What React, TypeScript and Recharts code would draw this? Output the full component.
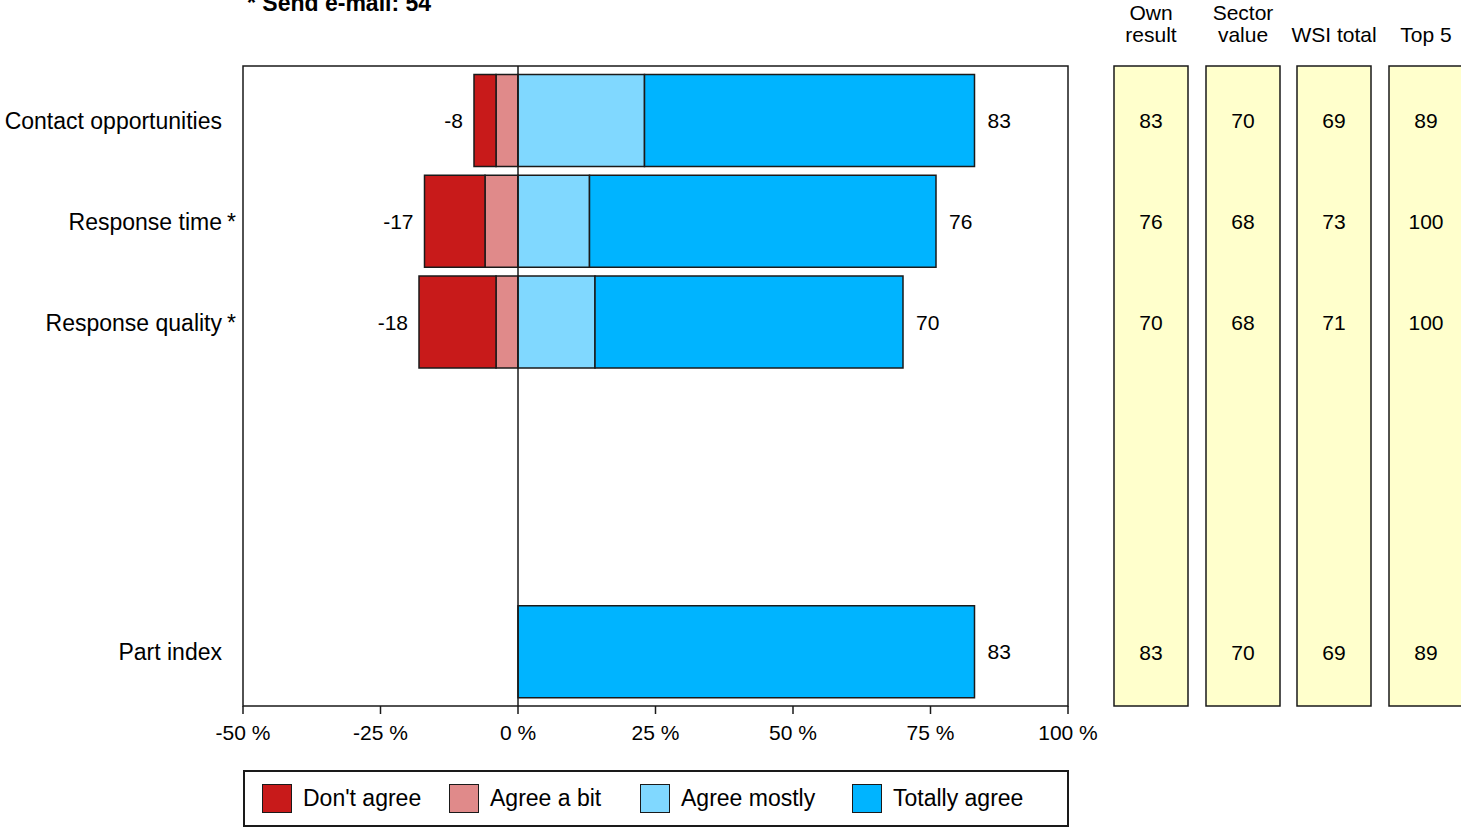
import React from "react";
import {
  BarChart,
  Bar,
  XAxis,
  YAxis,
  ReferenceLine,
  ReferenceArea,
  LabelList,
  ScatterChart,
  Scatter,
} from "recharts";

// Survey rows and answer shares (%)
const CATEGORIES = [
  "Contact opportunities",
  "Response time *",
  "Response quality *",
  "Part index",
];
const NEGATIVE_TOTAL = [-8, -17, -18, 0];
const AGREE_A_BIT = [-4, -6, -4, 0];
const POSITIVE_TOTAL = [83, 76, 70, 83];
const AGREE_MOSTLY = [23, 13, 14, 0];

// Comparison columns
const OWN_RESULT = [83, 76, 70, 83];
const SECTOR_VALUE = [70, 68, 68, 70];
const WSI_TOTAL = [69, 73, 71, 69];
const TOP_5 = [89, 100, 100, 89];

const X_TICKS = [-50, -25, 0, 25, 50, 75, 100];

// vertical slot of each row; the part index sits apart at the bottom
const ROW_SLOTS = [0, 1, 2, 5.27];
const Y_DOMAIN: [number, number] = [-0.545, 5.805];

const FONT = "'Liberation Sans', Arial, sans-serif";
const COLORS = {
  dontAgree: "#c81a1a",
  agreeBit: "#e08a8a",
  agreeMostly: "#80d8ff",
  totallyAgree: "#00b4ff",
};
const EDGE = "#1a1a1a";

const rows = CATEGORIES.map((name, i) => ({
  name,
  slot: ROW_SLOTS[i],
  negTotal: NEGATIVE_TOTAL[i],
  posTotal: POSITIVE_TOTAL[i],
  agreeBit: AGREE_A_BIT[i],
  dontAgree: NEGATIVE_TOTAL[i] - AGREE_A_BIT[i],
  agreeMostly: AGREE_MOSTLY[i],
  totallyAgree: POSITIVE_TOTAL[i] - AGREE_MOSTLY[i],
}));

const LEGEND = [
  { label: "Don't agree", color: COLORS.dontAgree, width: 187 },
  { label: "Agree a bit", color: COLORS.agreeBit, width: 191 },
  { label: "Agree mostly", color: COLORS.agreeMostly, width: 212 },
  { label: "Totally agree", color: COLORS.totallyAgree, width: 190 },
];

const COLUMNS = [
  { title: ["Own", "result"], values: OWN_RESULT, left: 1114 },
  { title: ["Sector", "value"], values: SECTOR_VALUE, left: 1206 },
  { title: ["WSI total"], values: WSI_TOTAL, left: 1297 },
  { title: ["Top 5"], values: TOP_5, left: 1389 },
];

function CategoryTick(props: any) {
  const { x, y, payload } = props;
  const idx = ROW_SLOTS.indexOf(payload.value);
  if (idx < 0) return null;
  const label = CATEGORIES[idx];
  const starred = label.endsWith(" *");
  const text = starred ? label.slice(0, -2) : label;
  return (
    <g>
      <text
        x={x}
        y={y}
        textAnchor="end"
        dominantBaseline="central"
        fontSize={23}
        fill="#000"
        fontFamily={FONT}
      >
        {text}
      </text>
      {starred && (
        <text
          x={x + 5}
          y={y}
          textAnchor="start"
          dominantBaseline="central"
          fontSize={23}
          fill="#000"
          fontFamily={FONT}
        >
          *
        </text>
      )}
    </g>
  );
}

// total placed just outside the outer end of a stacked segment
const endLabel = (side: "left" | "right", gap: number) => (p: any) => {
  const { x, y, width, height, value } = p;
  if (!value) return null;
  const x0 = Math.min(x, x + width);
  const x1 = Math.max(x, x + width);
  return (
    <text
      x={side === "left" ? x0 - gap : x1 + gap}
      y={y + height / 2}
      textAnchor={side === "left" ? "end" : "start"}
      dominantBaseline="central"
      fontSize={21}
      fill="#000"
      fontFamily={FONT}
    >
      {value}
    </text>
  );
};

function ValueColumn({ values, left }: { values: number[]; left: number }) {
  const pts = values.map((v, i) => ({ x: 0.5, slot: ROW_SLOTS[i], value: v }));
  return (
    <div style={{ position: "absolute", left: left - 1, top: 65 }}>
      <ScatterChart
        width={76}
        height={642}
        margin={{ top: 1, right: 1, bottom: 1, left: 1 }}
      >
        <XAxis type="number" dataKey="x" domain={[0, 1]} hide />
        <YAxis
          type="number"
          dataKey="slot"
          domain={Y_DOMAIN}
          reversed
          hide
          allowDataOverflow
        />
        <ReferenceArea
          x1={0}
          x2={1}
          y1={Y_DOMAIN[0]}
          y2={Y_DOMAIN[1]}
          fill="#ffffcc"
          fillOpacity={1}
          stroke={EDGE}
          strokeWidth={1.5}
        />
        <Scatter
          data={pts}
          isAnimationActive={false}
          shape={(p: any) => (
            <text
              x={p.cx}
              y={p.cy}
              textAnchor="middle"
              dominantBaseline="central"
              fontSize={21}
              fill="#000"
              fontFamily={FONT}
            >
              {p.payload.value}
            </text>
          )}
        />
      </ScatterChart>
    </div>
  );
}

export default function App() {
  return (
    <div
      style={{
        position: "absolute",
        left: 0,
        top: 0,
        width: 1461,
        height: 827,
        overflow: "hidden",
        background: "#fff",
        fontFamily: FONT,
        color: "#000",
      }}
    >
      <div
        style={{
          position: "absolute",
          left: 247,
          top: -10,
          fontSize: 23,
          fontWeight: "bold",
          whiteSpace: "pre",
        }}
      >
        * Send e-mail: 54
      </div>

      <div style={{ position: "absolute", left: 0, top: 0 }}>
        <BarChart
          width={1100}
          height={827}
          layout="vertical"
          data={rows}
          stackOffset="sign"
          margin={{ top: 66, right: 32, bottom: 0, left: 0 }}
        >
          <XAxis
            type="number"
            domain={[-50, 100]}
            ticks={X_TICKS}
            interval={0}
            allowDataOverflow
            tickFormatter={(v) => `${v} %`}
            axisLine={false}
            tickLine={{ stroke: EDGE, strokeWidth: 1.5 }}
            tickSize={8}
            tickMargin={11}
            height={121}
            tick={{ fill: "#000", fontSize: 21, fontFamily: FONT }}
          />
          <YAxis
            type="number"
            dataKey="slot"
            domain={Y_DOMAIN}
            allowDataOverflow
            ticks={ROW_SLOTS}
            interval={0}
            width={243}
            axisLine={false}
            tickLine={false}
            tickSize={0}
            tickMargin={21}
            tick={<CategoryTick />}
          />
          <ReferenceArea
            x1={-50}
            x2={100}
            y1={Y_DOMAIN[0]}
            y2={Y_DOMAIN[1]}
            fill="none"
            stroke={EDGE}
            strokeWidth={1.5}
          />
          <Bar
            dataKey="agreeBit"
            stackId="s"
            fill={COLORS.agreeBit}
            stroke={EDGE}
            strokeWidth={1.5}
            barSize={92}
            isAnimationActive={false}
          />
          <Bar
            dataKey="dontAgree"
            stackId="s"
            fill={COLORS.dontAgree}
            stroke={EDGE}
            strokeWidth={1.5}
            barSize={92}
            isAnimationActive={false}
          >
            <LabelList dataKey="negTotal" content={endLabel("left", 11)} />
          </Bar>
          <Bar
            dataKey="agreeMostly"
            stackId="s"
            fill={COLORS.agreeMostly}
            stroke={EDGE}
            strokeWidth={1.5}
            barSize={92}
            isAnimationActive={false}
          />
          <Bar
            dataKey="totallyAgree"
            stackId="s"
            fill={COLORS.totallyAgree}
            stroke={EDGE}
            strokeWidth={1.5}
            barSize={92}
            isAnimationActive={false}
          >
            <LabelList dataKey="posTotal" content={endLabel("right", 13)} />
          </Bar>
          <ReferenceLine x={0} stroke={EDGE} strokeWidth={1.5} />
        </BarChart>
      </div>

      {/* legend */}
      <div
        style={{
          position: "absolute",
          left: 243,
          top: 770,
          width: 826,
          height: 57,
          boxSizing: "border-box",
          border: `2px solid ${EDGE}`,
          display: "flex",
          alignItems: "center",
          paddingLeft: 17,
          fontSize: 23,
        }}
      >
        {LEGEND.map((item) => (
          <div
            key={item.label}
            style={{ display: "flex", alignItems: "center", width: item.width }}
          >
            <div
              style={{
                width: 30,
                height: 29,
                boxSizing: "border-box",
                background: item.color,
                border: `1.5px solid ${EDGE}`,
                marginRight: 11,
              }}
            />
            <span>{item.label}</span>
          </div>
        ))}
      </div>

      {/* comparison columns */}
      {COLUMNS.map((col) => (
        <React.Fragment key={col.title.join(" ")}>
          <div
            style={{
              position: "absolute",
              left: col.left - 23,
              width: 120,
              top: 2,
              height: 44,
              display: "flex",
              flexDirection: "column",
              justifyContent: "flex-end",
              alignItems: "center",
              fontSize: 21,
              lineHeight: "22px",
            }}
          >
            {col.title.map((t) => (
              <div key={t}>{t}</div>
            ))}
          </div>
          <ValueColumn values={col.values} left={col.left} />
        </React.Fragment>
      ))}
    </div>
  );
}
